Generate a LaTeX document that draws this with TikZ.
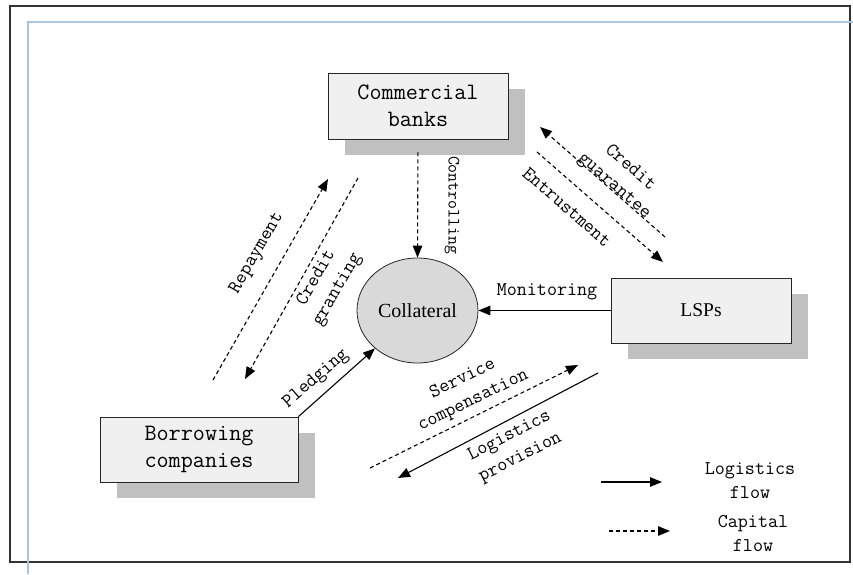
\documentclass[tikz,border=0pt]{standalone}
\usepackage{fontspec}
\setmainfont{Liberation Serif}
\usetikzlibrary{arrows.meta,shadows,shapes.geometric}

\definecolor{boxfill}{HTML}{F0F0F0}
\definecolor{shadowgray}{HTML}{C0C0C0}
\definecolor{collfill}{HTML}{D9D9D9}
\definecolor{guideblue}{HTML}{A9C5E3}

\begin{document}
\begin{tikzpicture}[x=1pt,y=-1pt,
  entity/.style={draw=black!85, line width=0.8pt, fill=boxfill, inner sep=0pt,
    align=center, font=\ttfamily\fontsize{23.5}{27}\selectfont,
    drop shadow={shadow xshift=17pt, shadow yshift=-16pt, fill=shadowgray, opacity=1}},
  lab/.style={inner sep=0pt, align=center, font=\ttfamily\fontsize{19.5}{24}\selectfont},
  tip/.style={-{Triangle[length=12pt,width=9.5pt]}},
  logistics/.style={tip, line width=1.1pt},
  capital/.style={tip, line width=1.1pt, dash pattern=on 4pt off 3pt}]

  \useasboundingbox (0,0) rectangle (853,574);

  % page frame and guide lines
  \draw[black!80, line width=1.1pt] (10,6) rectangle (850,562);
  \draw[guideblue, line width=1.3pt] (853,22) -- (28,22) -- (28,574);

  % actors
  \node[entity, minimum width=180pt, minimum height=66pt] (cb) at (418,106) {Commercial\\banks};
  \node[entity, minimum width=180pt, minimum height=65pt,
        font=\rmfamily\fontsize{19.5}{24}\selectfont] (lsp) at (701,310.5) {LSPs};
  \node[entity, minimum width=198pt, minimum height=65pt] (bc) at (199,449.5) {Borrowing\\companies};
  \node[draw=black!85, line width=0.8pt, ellipse, fill=collfill, inner sep=0pt,
        minimum width=121pt, minimum height=105pt,
        font=\rmfamily\fontsize{20}{24}\selectfont] (coll) at (417.5,310.5) {Collateral};

  % free ends of the flow arrows
  \coordinate (repA) at (213,380);  \coordinate (repB) at (328,179);
  \coordinate (crgA) at (358,178);  \coordinate (crgB) at (245,379);
  \coordinate (cguA) at (665,237);  \coordinate (cguB) at (540,127);
  \coordinate (entA) at (537,152);  \coordinate (entB) at (663,262);
  \coordinate (svcA) at (370,468);  \coordinate (svcB) at (578,365);
  \coordinate (lpA)  at (598,373);  \coordinate (lpB)  at (398,478);
  \coordinate (lgA)  at (601,482);  \coordinate (lgB)  at (662,482);
  \coordinate (cpA)  at (609,531);  \coordinate (cpB)  at (670,531);

  % flows around the collateral
  \draw[capital, shorten <=13pt] (cb.south) -- (coll.north);
  \draw[logistics] (lsp.west) -- (coll.east);
  \draw[logistics] (bc.north east) -- (coll);
  \draw[capital] (repA) -- (repB);
  \draw[capital] (crgA) -- (crgB);
  \draw[capital] (cguA) -- (cguB);
  \draw[capital] (entA) -- (entB);
  \draw[capital] (svcA) -- (svcB);
  \draw[logistics] (lpA) -- (lpB);

  % flow labels
  \node[lab, font=\ttfamily\fontsize{17.3}{24}\selectfont, rotate=-90] (lctl) at (452,205) {Controlling};
  \node[lab] (lmon) at (547,292) {Monitoring};
  \node[lab, rotate=41] (lple) at (316,379) {Pledging};
  \node[lab, rotate=60] (lrep) at (257,253) {Repayment};
  \node[lab, rotate=60] (lcrg) at (327,284) {Credit\\granting};
  \node[lab, rotate=-41] (lcgu) at (622,177) {Credit\\guarantee};
  \node[lab, rotate=-41] (lent) at (567,207) {Entrustment};
  \node[lab, rotate=26] (lsvc) at (468,390) {Service\\compensation};
  \node[lab, rotate=27] (llp) at (515,447) {Logistics\\provision};

  % legend
  \draw[logistics] (lgA) -- (lgB);
  \draw[capital] (cpA) -- (cpB);
  \node[lab] (leglog) at (750,481) {Logistics\\flow};
  \node[lab] (legcap) at (753,533) {Capital\\flow};
\end{tikzpicture}
\end{document}
